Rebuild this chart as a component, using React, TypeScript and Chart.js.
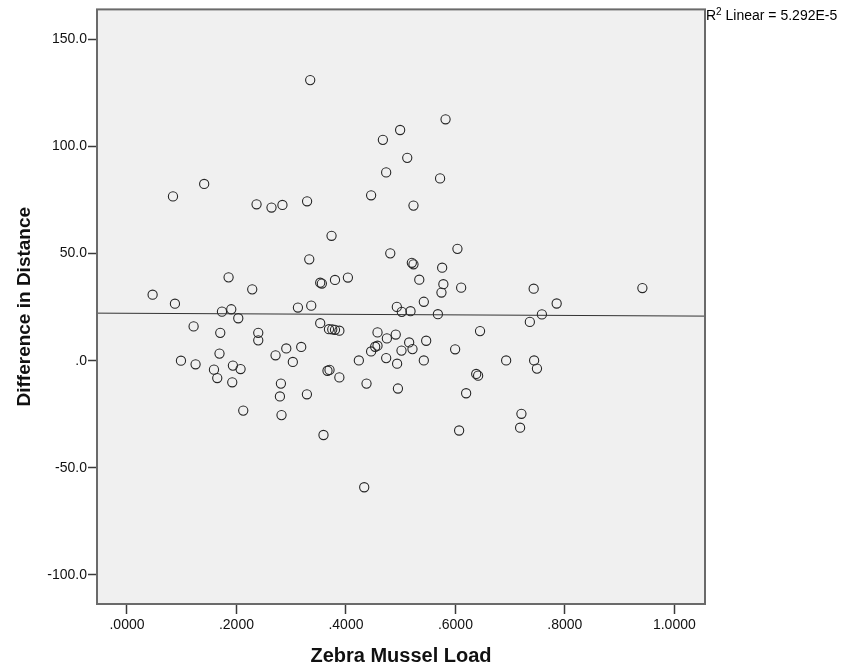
import React, { useEffect, useRef } from "react";
import { Chart, registerables } from "chart.js";

Chart.register(...registerables);

// Zebra Mussel Load (x) vs Difference in Distance (y)
const xValues = [
  0.3347, 0.4675, 0.499, 0.4735, 0.084, 0.141, 0.2367, 0.264, 0.284, 0.329,
  0.446, 0.3737, 0.481, 0.333, 0.1856, 0.0468, 0.0876, 0.2288, 0.353, 0.356,
  0.38, 0.4036, 0.3123, 0.3366, 0.493, 0.582, 0.512, 0.572, 0.5234, 0.6037,
  0.5204, 0.5234, 0.5758, 0.534, 0.578, 0.5745, 0.6105, 0.743, 0.9416, 0.5423,
  0.785, 0.1735, 0.1905, 0.2033, 0.1217, 0.1704, 0.2398, 0.2398, 0.353, 0.369,
  0.375, 0.38, 0.388, 0.4577, 0.4748, 0.491, 0.4577, 0.4534, 0.446, 0.4735,
  0.4935, 0.495, 0.0986, 0.1253, 0.169, 0.1589, 0.1649, 0.1935, 0.2075, 0.1923,
  0.2124, 0.2714, 0.291, 0.303, 0.3183, 0.2812, 0.2794, 0.2823, 0.3287, 0.3663,
  0.37, 0.388, 0.359, 0.4236, 0.4376, 0.4334, 0.502, 0.518, 0.568, 0.758,
  0.736, 0.645, 0.5155, 0.5466, 0.5015, 0.5216, 0.5995, 0.5423, 0.6927, 0.7438,
  0.749, 0.638, 0.6415, 0.6196, 0.7206, 0.7182, 0.6068,
];
const yValues = [
  131.0, 103.1, 107.7, 87.9, 76.7, 82.5, 73.0, 71.5, 72.7, 74.4,
  77.2, 58.3, 50.1, 47.3, 38.9, 30.8, 26.6, 33.3, 36.4, 36.0,
  37.7, 38.8, 24.8, 25.7, 25.1, 112.7, 94.7, 85.1, 72.4, 52.2,
  45.7, 45.0, 43.4, 37.8, 35.7, 31.8, 34.1, 33.6, 33.9, 27.5,
  26.7, 22.9, 24.0, 19.8, 16.0, 13.0, 13.0, 9.5, 17.5, 14.7,
  14.6, 14.4, 14.0, 13.2, 10.4, 12.2, 7.0, 6.5, 4.3, 1.2,
  -1.4, -13.0, 0.0, -1.7, 3.3, -4.2, -8.1, -2.3, -3.9, -10.1,
  -23.3, 2.5, 5.7, -0.6, 6.4, -10.7, -16.7, -25.4, -15.7, -4.7,
  -4.3, -7.8, -34.7, 0.1, -10.7, -59.1, 22.8, 23.1, 21.7, 21.6,
  18.1, 13.8, 8.5, 9.3, 4.7, 5.4, 5.3, 0.1, 0.1, 0.1,
  -3.7, -6.2, -7.0, -15.2, -24.8, -31.3, -32.6,
];

// Fit line endpoints
const fitX = [-0.0548, 1.056];
const fitY = [22.2, 20.8];

const xTickValues = [0, 0.2, 0.4, 0.6, 0.8, 1.0];
const xTickLabels = [".0000", ".2000", ".4000", ".6000", ".8000", "1.0000"];
const yTickValues = [-100, -50, 0, 50, 100, 150];
const yTickLabels = ["-100.0", "-50.0", ".0", "50.0", "100.0", "150.0"];

const xRange = [-0.0548, 1.056];
const yRange = [-113.6, 164.0];

const FONT = "'Liberation Sans', Arial, sans-serif";

const framePlugin = {
  id: "spssFrame",
  beforeDatasetsDraw(chart: any) {
    const { ctx, chartArea: a } = chart;
    ctx.save();
    ctx.fillStyle = "#f0f0f0";
    ctx.fillRect(a.left, a.top, a.right - a.left, a.bottom - a.top);
    ctx.restore();
  },
  afterDraw(chart: any) {
    const { ctx, chartArea: a } = chart;
    ctx.save();
    ctx.strokeStyle = "#6a6a6a";
    ctx.lineWidth = 2;
    ctx.strokeRect(a.left, a.top, a.right - a.left, a.bottom - a.top);
    // R² annotation
    ctx.fillStyle = "#000";
    ctx.textBaseline = "alphabetic";
    ctx.textAlign = "left";
    ctx.font = `14px ${FONT}`;
    let x = a.right + 1;
    ctx.fillText("R", x, 20);
    x += ctx.measureText("R").width;
    ctx.font = `10px ${FONT}`;
    ctx.fillText("2", x, 15);
    x += ctx.measureText("2").width;
    ctx.font = `14px ${FONT}`;
    ctx.fillText(" Linear = 5.292E-5", x, 20);
    ctx.restore();
  },
};

export default function App() {
  const ref = useRef<HTMLCanvasElement | null>(null);
  useEffect(() => {
    if (!ref.current) return;
    const points = xValues.map((x, i) => ({ x, y: yValues[i] }));
    const fit = fitX.map((x, i) => ({ x, y: fitY[i] }));
    const chart = new Chart(ref.current, {
      type: "scatter",
      data: {
        datasets: [
          {
            type: "line",
            data: fit,
            borderColor: "#333333",
            borderWidth: 1,
            pointRadius: 0,
            fill: false,
          } as any,
          {
            type: "scatter",
            data: points,
            pointRadius: 4.6,
            pointBorderWidth: 1.1,
            pointBorderColor: "#262626",
            pointBackgroundColor: "rgba(0,0,0,0)",
            borderColor: "#262626",
            backgroundColor: "rgba(0,0,0,0)",
          } as any,
        ],
      },
      options: {
        animation: false,
        responsive: false,
        maintainAspectRatio: false,
        layout: { padding: { left: 0, top: 7, right: 139, bottom: 0 } },
        plugins: {
          legend: { display: false },
          tooltip: { enabled: false },
        },
        scales: {
          x: {
            type: "linear",
            min: xRange[0],
            max: xRange[1],
            afterBuildTicks: (s: any) => {
              s.ticks = xTickValues.map((v) => ({ value: v }));
            },
            afterFit: (s: any) => {
              s.height = 65;
            },
            ticks: {
              color: "#111",
              font: { family: FONT, size: 14 },
              padding: 3,
              maxRotation: 0,
              autoSkip: false,
              callback: (v: any) => {
                const i = xTickValues.findIndex((t) => Math.abs(t - v) < 1e-9);
                return i >= 0 ? xTickLabels[i] : "";
              },
            },
            grid: {
              drawOnChartArea: false,
              drawTicks: true,
              tickLength: 10,
              tickColor: "#3a3a3a",
              tickWidth: 1.5,
            },
            border: { display: false },
            title: {
              display: true,
              text: "Zebra Mussel Load",
              color: "#111",
              font: { family: FONT, size: 20, weight: "bold" },
              padding: { top: 0, bottom: 1 },
            },
          },
          y: {
            type: "linear",
            min: yRange[0],
            max: yRange[1],
            afterBuildTicks: (s: any) => {
              s.ticks = yTickValues.map((v) => ({ value: v }));
            },
            afterFit: (s: any) => {
              s.width = 97;
            },
            ticks: {
              color: "#111",
              font: { family: FONT, size: 14 },
              padding: 1,
              autoSkip: false,
              callback: (v: any) => {
                const i = yTickValues.findIndex((t) => Math.abs(t - v) < 1e-9);
                return i >= 0 ? yTickLabels[i] : "";
              },
            },
            grid: {
              drawOnChartArea: false,
              drawTicks: true,
              tickLength: 9,
              tickColor: "#3a3a3a",
              tickWidth: 1.5,
            },
            border: { display: false },
            title: {
              display: true,
              text: "Difference in Distance",
              color: "#111",
              font: { family: FONT, size: 19, weight: "bold" },
              padding: { top: 13, bottom: 0 },
            },
          },
        },
      },
      plugins: [framePlugin],
    });
    return () => chart.destroy();
  }, []);

  return (
    <div style={{ position: "absolute", left: 0, top: 0, width: 844, height: 669, background: "#fff" }}>
      <canvas ref={ref} width={844} height={669} style={{ width: 844, height: 669 }} />
    </div>
  );
}
